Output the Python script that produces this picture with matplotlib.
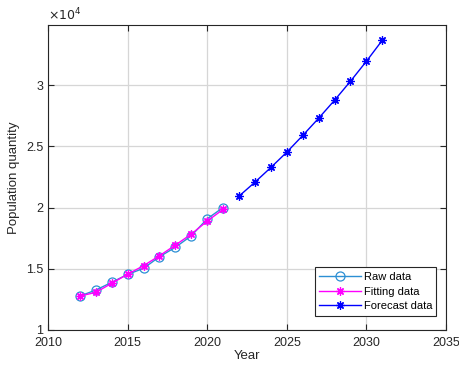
import matplotlib.pyplot as plt
from matplotlib.ticker import FuncFormatter

plt.rcParams['font.family'] = ['Liberation Sans', 'DejaVu Sans']

years_raw = [2012, 2013, 2014, 2015, 2016, 2017, 2018, 2019, 2020, 2021]
raw_data = [12770, 13260, 13890, 14540, 15030, 15980, 16750, 17690, 19080, 20000]
fit_data = [12770, 13070, 13810, 14550, 15250, 16060, 16930, 17830, 18890, 19850]

years_fc = [2022, 2023, 2024, 2025, 2026, 2027, 2028, 2029, 2030, 2031]
fc_data = [20930, 22070, 23270, 24520, 25880, 27290, 28760, 30310, 31940, 33660]

# matlab style asterisk
star = (8, 2, 0)

fig = plt.figure(figsize=(4.59, 3.68), dpi=100)
ax = fig.add_axes([0.1046, 0.1033, 0.8671, 0.8287])

ax.plot(years_raw, raw_data, '-o', color='#2c8fd4', lw=1, ms=6.5,
        mfc='none', mew=0.9, label='Raw data')
ax.plot(years_raw, fit_data, '-', marker=star, color='#ff00ff', lw=1, ms=6,
        mew=0.9, label='Fitting data')
ax.plot(years_fc, fc_data, '-', marker=star, color='#0000ff', lw=1, ms=6,
        mew=0.9, label='Forecast data')

ax.set_xlim(2010, 2035)
ax.set_ylim(10000, 34900)
ax.set_xticks([2010, 2015, 2020, 2025, 2030, 2035])
ax.set_yticks([10000, 15000, 20000, 25000, 30000])
ax.yaxis.set_major_formatter(FuncFormatter(lambda v, p: f"{v/1e4:g}"))
ax.text(0, 1.005, r'$\times10^{4}$', transform=ax.transAxes, fontsize=9,
        va='bottom', ha='left', color='#262626')

ax.grid(True, color='#d6d6d6', lw=0.9)
ax.set_axisbelow(True)
ax.tick_params(direction='in', top=True, right=True, labelsize=9,
               colors='#262626', length=4)
ax.tick_params(axis='x', pad=5)
for s in ax.spines.values():
    s.set_color('#262626')
    s.set_linewidth(0.8)

ax.set_xlabel('Year', fontsize=9.5, color='#262626', labelpad=1)
ax.set_ylabel('Population quantity', fontsize=9.5, color='#262626', labelpad=4)

leg = ax.legend(loc='lower right', fontsize=8, fancybox=False,
                edgecolor='#262626', framealpha=1, borderpad=0.4,
                handlelength=3.8, handletextpad=0.2, labelspacing=0.42,
                borderaxespad=0, bbox_to_anchor=(0.976, 0.047))
leg.get_frame().set_linewidth(0.8)

fig.savefig('out.png', dpi=100)
